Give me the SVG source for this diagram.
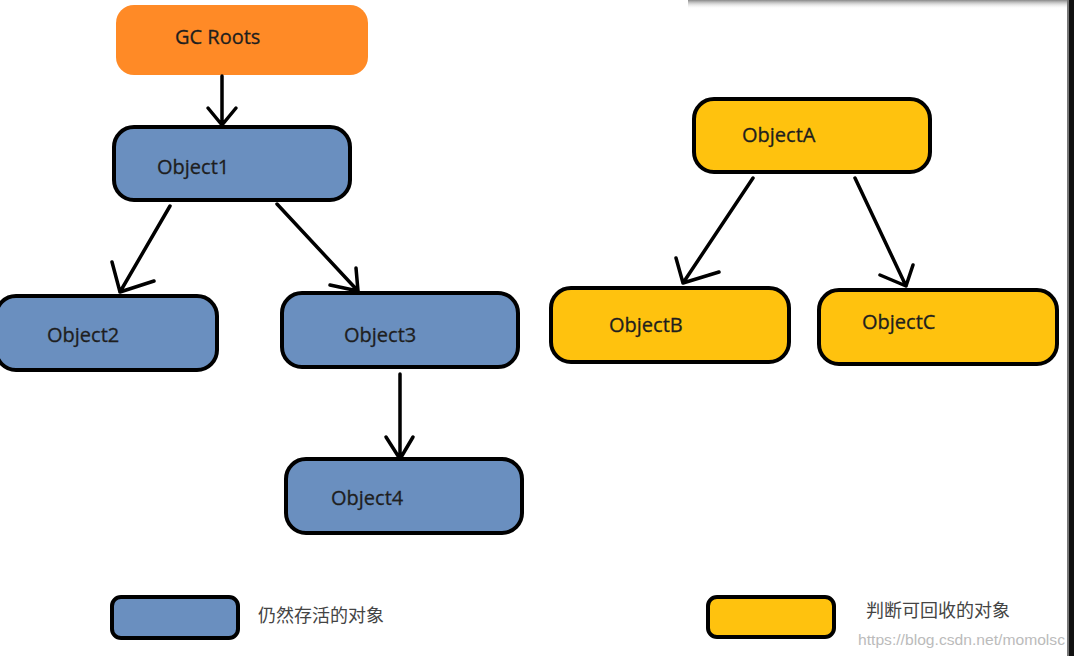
<svg xmlns="http://www.w3.org/2000/svg" width="1074" height="656" viewBox="0 0 1074 656">
<defs>
<style>
.live{fill:#6A8FBF;stroke:#000;stroke-width:4}
.dead{fill:#FFC20E;stroke:#000;stroke-width:4}
.lbl{font-family:"Open Sans","Noto Sans",sans-serif;font-size:20px;fill:#1e1e1e;stroke:#1e1e1e;stroke-width:0.3}
.leg{font-family:"Noto Sans CJK SC",sans-serif;font-size:18px;fill:#444}
.con{stroke:#000;stroke-width:3.5;fill:none;stroke-linecap:round;stroke-linejoin:round}
</style>
<linearGradient id="sh" x1="0" y1="0" x2="0" y2="1">
<stop offset="0" stop-color="#888"/>
<stop offset="1" stop-color="#fff" stop-opacity="0"/>
</linearGradient>
</defs>
<rect width="1074" height="656" fill="#fff"/>
<rect x="688" y="0" width="380" height="9" fill="url(#sh)"/>
<rect x="1067" y="0" width="2" height="656" fill="#777"/>
<rect x="1069" y="0" width="5" height="656" fill="#111"/>
<g id="gcroots">
<rect x="116" y="5" width="252" height="70" rx="18" fill="#FF8A26"/>
<text class="lbl" x="175" y="44">GC Roots</text>
</g>
<g id="object1">
<rect class="live" x="114" y="127" width="236" height="73" rx="20"/>
<text class="lbl" x="157" y="174">Object1</text>
</g>
<g id="object2">
<rect class="live" x="-4" y="296" width="221" height="74" rx="20"/>
<text class="lbl" x="47" y="342">Object2</text>
</g>
<g id="object3">
<rect class="live" x="282" y="293" width="236" height="74" rx="20"/>
<text class="lbl" x="344" y="342">Object3</text>
</g>
<g id="object4">
<rect class="live" x="286" y="459" width="236" height="74" rx="20"/>
<text class="lbl" x="331" y="505">Object4</text>
</g>
<g id="objectA">
<rect class="dead" x="694" y="99" width="236" height="73" rx="20"/>
<text class="lbl" x="742" y="142">ObjectA</text>
</g>
<g id="objectB">
<rect class="dead" x="551" y="288" width="238" height="74" rx="20"/>
<text class="lbl" x="609" y="332">ObjectB</text>
</g>
<g id="objectC">
<rect class="dead" x="819" y="290" width="238" height="74" rx="20"/>
<text class="lbl" x="862" y="329">ObjectC</text>
</g>
<g id="connectors">
<path class="con" d="M222 76 L222 125 M208 108 L222 125 L236 108"/>
<path class="con" d="M170 206 L120 292 M112 262 L120 292 L154 281"/>
<path class="con" d="M277 204 L358 291 M356 268 L358 291 L330 285"/>
<path class="con" d="M400 374 L400 459 M386 437 L400 459 L413 437"/>
<path class="con" d="M753 178 L683 283 M676 258 L683 283 L719 272"/>
<path class="con" d="M855 178 L906 286 M880 275 L906 286 L913 265"/>
</g>
<g id="legend-live">
<rect class="live" x="112" y="597" width="126" height="41" rx="9"/>
<text class="leg" x="258" y="622">仍然存活的对象</text>
</g>
<g id="legend-dead">
<rect class="dead" x="708" y="597" width="126" height="40" rx="9"/>
<text class="leg" x="866" y="617">判断可回收的对象</text>
</g>
<text x="858" y="645" font-family="'Liberation Sans',sans-serif" font-size="15" fill="#bbb" textLength="207" lengthAdjust="spacingAndGlyphs">https://blog.csdn.net/momolsc</text>
</svg>
